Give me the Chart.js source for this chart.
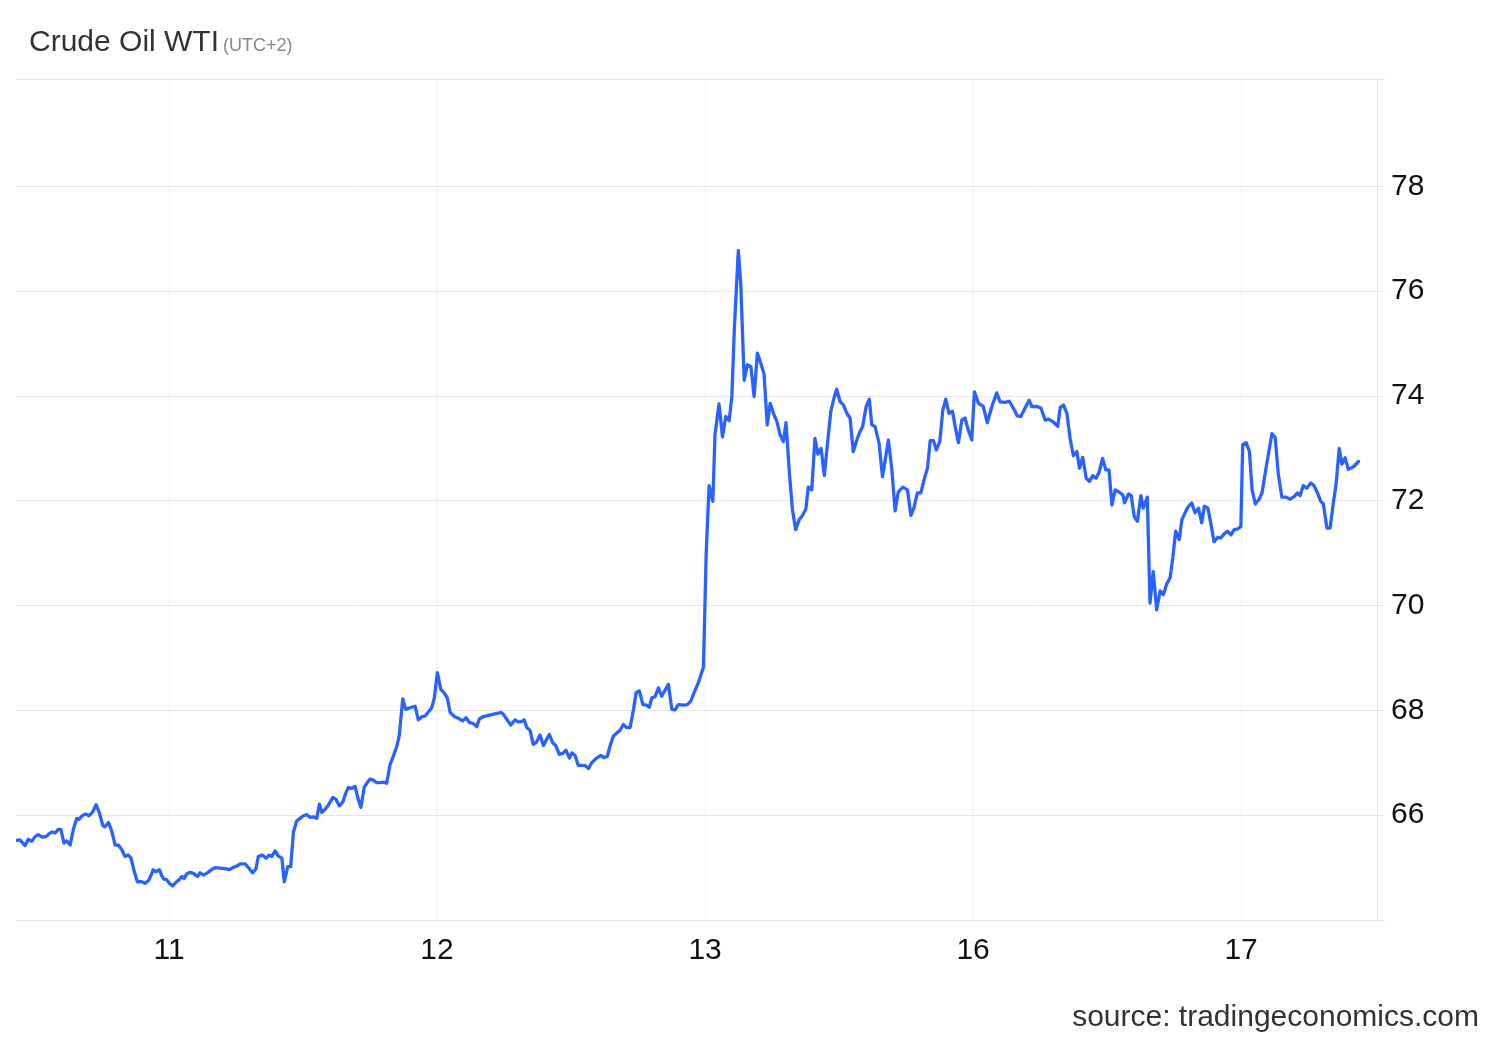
<!DOCTYPE html>
<html>
<head>
<meta charset="utf-8">
<script src="https://cdn.jsdelivr.net/npm/chart.js@4.4.1/dist/chart.umd.min.js"></script>
<style>
  html, body { margin: 0; padding: 0; background: #ffffff; }
  #wrap { position: relative; width: 1500px; height: 1040px; overflow: hidden; font-family: "Liberation Sans", Arial, Helvetica, sans-serif; }
  #c { position: absolute; left: 0; top: 0; }
  #title { position: absolute; left: 29px; top: 26px; font-size: 30px; line-height: 30px; color: #333333; white-space: nowrap; }
  #title .tz { font-size: 18px; color: #888888; margin-left: 4px; }
  #source { position: absolute; right: 21px; top: 1001px; font-size: 30px; line-height: 30px; color: #333333; white-space: nowrap; }
</style>
</head>
<body>
<div id="wrap">
  <canvas id="c" width="1500" height="1040"></canvas>
  <div id="title">Crude Oil WTI<span class="tz">(UTC+2)</span></div>
  <div id="source">source: tradingeconomics.com</div>
</div>
<script>
// Session (day) labels on the x axis; x positions are expressed as fractional session index
const sessionLabels = ['11', '12', '13', '16', '17'];

// Y axis range and ticks
const yMin = 64.0, yMax = 80.05;
const yLabelled = [66, 68, 70, 72, 74, 76, 78];

// Time, in session units (0 = "11", 1 = "12", ...)
const times = [
-0.568,-0.556,-0.537,-0.525,-0.512,-0.500,-0.488,-0.473,-0.460,-0.444,
-0.434,-0.425,-0.413,-0.404,-0.392,-0.382,-0.369,-0.357,-0.344,-0.336,
-0.322,-0.310,-0.299,-0.285,-0.272,-0.260,-0.247,-0.239,-0.226,-0.214,
-0.201,-0.189,-0.176,-0.164,-0.152,-0.142,-0.129,-0.118,-0.102,-0.090,
-0.077,-0.068,-0.059,-0.049,-0.036,-0.027,-0.019,-0.009,0.001,0.014,
0.026,0.038,0.047,0.056,0.066,0.078,0.091,0.106,0.116,0.128,
0.143,0.159,0.172,0.190,0.209,0.225,0.238,0.253,0.265,0.284,
0.296,0.311,0.324,0.333,0.348,0.362,0.374,0.383,0.396,0.408,
0.421,0.430,0.443,0.454,0.464,0.476,0.489,0.501,0.514,0.526,
0.538,0.551,0.561,0.570,0.582,0.594,0.611,0.623,0.635,0.648,
0.660,0.669,0.682,0.694,0.706,0.716,0.728,0.738,0.750,0.762,
0.775,0.787,0.800,0.812,0.825,0.837,0.850,0.859,0.872,0.883,
0.899,0.918,0.930,0.943,0.955,0.968,0.980,0.990,1.001,1.014,
1.026,1.038,1.049,1.063,1.079,1.096,1.108,1.121,1.135,1.148,
1.158,1.173,1.188,1.204,1.220,1.238,1.247,1.260,1.275,1.291,
1.303,1.312,1.325,1.335,1.347,1.359,1.372,1.384,1.397,1.409,
1.419,1.432,1.444,1.456,1.469,1.481,1.494,1.503,1.515,1.527,
1.540,1.552,1.565,1.577,1.593,1.611,1.623,1.635,1.646,1.658,
1.673,1.683,1.695,1.708,1.720,1.733,1.743,1.755,1.768,1.782,
1.792,1.801,1.813,1.826,1.838,1.851,1.863,1.876,1.888,1.900,
1.919,1.934,1.947,1.959,1.975,1.994,2.004,2.015,2.029,2.037,
2.052,2.065,2.077,2.090,2.100,2.109,2.124,2.133,2.146,2.158,
2.171,2.183,2.195,2.208,2.220,2.232,2.243,2.255,2.268,2.280,
2.292,2.302,2.315,2.326,2.338,2.351,2.361,2.376,2.385,2.398,
2.410,2.421,2.433,2.445,2.458,2.469,2.481,2.491,2.504,2.516,
2.529,2.541,2.553,2.566,2.578,2.588,2.601,2.613,2.622,2.634,
2.649,2.662,2.684,2.697,2.709,2.721,2.738,2.755,2.768,2.780,
2.792,2.805,2.817,2.830,2.840,2.852,2.863,2.876,2.887,2.898,
2.910,2.923,2.933,2.945,2.958,2.970,2.982,2.995,3.005,3.020,
3.038,3.053,3.070,3.088,3.101,3.119,3.135,3.150,3.165,3.178,
3.194,3.209,3.219,3.238,3.253,3.269,3.281,3.300,3.316,3.325,
3.337,3.350,3.362,3.374,3.387,3.397,3.409,3.422,3.434,3.447,
3.459,3.471,3.483,3.495,3.507,3.518,3.530,3.546,3.559,3.565,
3.580,3.590,3.601,3.613,3.626,3.635,3.650,3.660,3.672,3.685,
3.698,3.710,3.723,3.735,3.745,3.756,3.769,3.779,3.791,3.803,
3.816,3.828,3.841,3.853,3.863,3.876,3.888,3.899,3.912,3.924,
3.937,3.949,3.962,3.974,3.986,3.999,4.006,4.019,4.031,4.041,
4.053,4.066,4.078,4.096,4.115,4.127,4.139,4.152,4.167,4.183,
4.198,4.210,4.220,4.232,4.245,4.260,4.272,4.285,4.297,4.307,
4.320,4.332,4.344,4.354,4.366,4.376,4.388,4.400,4.419,4.438
];

// Crude Oil WTI price (USD/bbl)
const prices = [
65.52,65.53,65.42,65.54,65.50,65.59,65.63,65.58,65.59,65.66,
65.68,65.66,65.73,65.73,65.47,65.51,65.43,65.73,65.94,65.92,
66.00,66.02,65.99,66.06,66.20,66.05,65.80,65.78,65.86,65.70,
65.43,65.43,65.34,65.21,65.24,65.18,64.91,64.73,64.73,64.70,
64.75,64.84,64.96,64.92,64.96,64.84,64.78,64.77,64.70,64.65,
64.72,64.77,64.83,64.79,64.88,64.91,64.89,64.83,64.90,64.86,
64.90,64.96,65.00,64.99,64.98,64.96,65.00,65.03,65.07,65.07,
65.00,64.90,64.97,65.21,65.24,65.18,65.24,65.21,65.32,65.22,
65.18,64.73,65.02,65.02,65.67,65.89,65.94,65.99,66.01,65.96,
65.97,65.94,66.21,66.05,66.11,66.19,66.34,66.30,66.18,66.25,
66.43,66.53,66.51,66.55,66.30,66.15,66.53,66.61,66.69,66.67,
66.62,66.62,66.63,66.61,66.97,67.13,67.32,67.52,68.22,68.02,
68.05,68.08,67.82,67.88,67.89,67.97,68.05,68.24,68.72,68.40,
68.34,68.24,67.96,67.89,67.85,67.80,67.86,67.77,67.75,67.69,
67.84,67.88,67.90,67.92,67.94,67.96,67.93,67.83,67.72,67.82,
67.78,67.78,67.82,67.67,67.62,67.35,67.40,67.53,67.33,67.45,
67.54,67.38,67.32,67.16,67.18,67.24,67.09,67.19,67.14,66.95,
66.95,66.95,66.89,67.00,67.08,67.14,67.10,67.12,67.33,67.51,
67.58,67.62,67.73,67.67,67.67,68.02,68.34,68.37,68.11,68.10,
68.06,68.24,68.26,68.43,68.27,68.39,68.50,68.02,68.01,68.11,
68.10,68.11,68.18,68.34,68.53,68.83,70.97,72.29,71.99,73.26,
73.85,73.22,73.61,73.53,73.99,75.26,76.78,76.15,74.30,74.60,
74.56,73.99,74.82,74.62,74.42,73.45,73.86,73.67,73.51,73.26,
73.13,73.49,72.50,71.83,71.45,71.64,71.70,71.84,72.26,72.21,
73.19,72.89,73.00,72.48,73.16,73.70,73.96,74.13,73.89,73.83,
73.67,73.58,72.94,73.16,73.32,73.42,73.80,73.94,73.45,73.42,
73.10,72.46,73.16,72.59,71.81,72.17,72.26,72.21,71.72,71.88,
72.15,72.15,72.40,72.63,73.15,73.15,72.97,73.14,73.73,73.94,
73.67,73.71,73.42,73.11,73.54,73.58,73.35,73.16,74.08,73.86,
73.80,73.49,73.80,74.06,73.89,73.88,73.90,73.77,73.62,73.61,
73.77,73.92,73.80,73.80,73.77,73.54,73.56,73.50,73.42,73.78,
73.83,73.67,73.19,72.86,72.94,72.62,72.83,72.43,72.37,72.48,
72.43,72.56,72.81,72.59,72.59,71.92,72.21,72.16,72.11,71.96,
72.13,72.10,71.70,71.61,72.10,71.86,72.07,70.05,70.65,69.92,
70.28,70.21,70.42,70.53,70.91,71.42,71.26,71.64,71.77,71.89,
71.96,71.77,71.86,71.58,71.90,71.86,71.54,71.22,71.30,71.29,
71.37,71.42,71.35,71.45,71.46,71.51,73.07,73.11,72.94,72.21,
71.94,72.02,72.15,72.72,73.28,73.21,72.50,72.07,72.07,72.03,
72.08,72.15,72.10,72.29,72.24,72.34,72.29,72.15,71.99,71.94,
71.48,71.48,71.96,72.30,73.00,72.70,72.82,72.60,72.65,72.75
];

const xMin = -0.571, xMax = 4.507;
const fontFamily = '"Liberation Sans", Arial, Helvetica, sans-serif';

const points = times.map((t, i) => ({ x: t, y: prices[i] }));
const yGridValues = [yMin, ...yLabelled, yMax];

new Chart(document.getElementById('c').getContext('2d'), {
  type: 'line',
  data: {
    datasets: [{
      data: points,
      borderColor: '#2962FF',
      borderWidth: 3.3,
      pointRadius: 0,
      pointHoverRadius: 0,
      tension: 0,
      fill: false,
      borderJoinStyle: 'round',
      borderCapStyle: 'round'
    }]
  },
  options: {
    responsive: false,
    animation: false,
    events: [],
    layout: { padding: { left: 16, top: 79, right: 0, bottom: 0 } },
    plugins: { legend: { display: false }, tooltip: { enabled: false }, title: { display: false } },
    scales: {
      x: {
        type: 'linear',
        min: xMin,
        max: xMax,
        afterBuildTicks: (s) => { s.ticks = sessionLabels.map((_, i) => ({ value: i })); },
        afterFit: (s) => { s.height = 120; },
        grid: { color: '#eef0f4', lineWidth: 1, drawTicks: false },
        border: { display: true, color: '#e6e6e6', width: 1 },
        ticks: {
          callback: (v) => sessionLabels[v] ?? '',
          padding: 13,
          maxRotation: 0,
          autoSkip: false,
          color: '#111111',
          font: { family: fontFamily, size: 30 }
        }
      },
      y: {
        position: 'right',
        min: yMin,
        max: yMax,
        afterBuildTicks: (s) => { s.ticks = yGridValues.map(v => ({ value: v })); },
        afterFit: (s) => { s.width = 123; },
        grid: { color: '#e6e6e6', lineWidth: 1, drawTicks: true, tickLength: 8 },
        border: { display: true, color: '#e6e6e6', width: 1 },
        ticks: {
          callback: (v) => yLabelled.includes(v) ? String(v) : '',
          padding: 6,
          autoSkip: false,
          color: '#111111',
          font: { family: fontFamily, size: 30 }
        }
      }
    }
  }
});
</script>
</body>
</html>
